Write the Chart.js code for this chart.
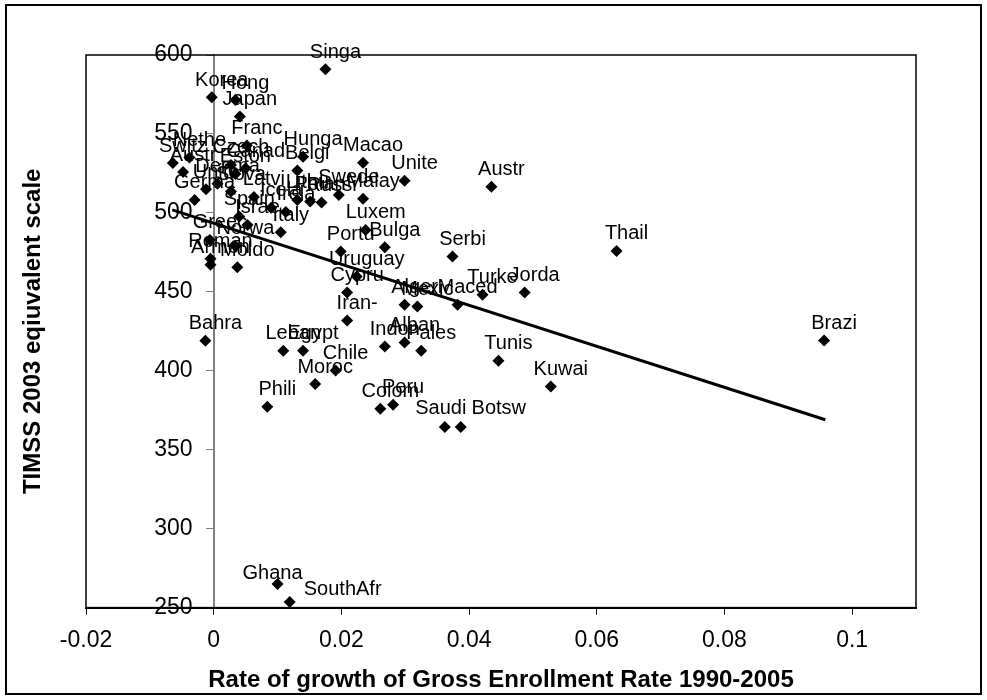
<!DOCTYPE html>
<html>
<head>
<meta charset="utf-8">
<script src="https://cdn.jsdelivr.net/npm/chart.js@4"></script>
<style>
  html, body { margin: 0; padding: 0; background: #fff; }
  #wrap { width: 987px; height: 700px; }
</style>
</head>
<body>
<div id="wrap"><canvas id="scoreGraph" width="987" height="700"></canvas></div>
<script>
// country labels (truncated like in the original sheet)
const countries = [
  "Singa", "Korea", "Hong", "Japan", "Franc", "Hunga", "Belgi", "Macao", "Unite", "Austr",
  "Switz", "Nethe", "Austr", "Czech", "Canad", "Eston", "Unite", "Germa", "Denma", "Slova",
  "Latvi", "Icela", "Irela", "Spain", "Israe", "Italy", "Lithu", "Polan", "Russi", "Swede",
  "Malay", "Luxem", "Portu", "Bulga", "Serbi", "Thail", "Norwa", "Greec", "Roman", "Armen",
  "Moldo", "Uruguay", "Cypru", "Iran-", "Alger", "Mexic", "Maced", "Turke", "Jorda", "Bahra",
  "Leban", "Egypt", "Chile", "Moroc", "Phili", "Indon", "Alban", "Pales", "Tunis", "Kuwai",
  "Brazi", "Colom", "Peru", "Saudi", "Botsw", "Ghana", "SouthAfr"
];

// rate of growth of gross enrollment rate 1990-2005
const growth = [
  0.0175, -0.0003, 0.0034, 0.0041, 0.0052, 0.0140, 0.0131, 0.0234, 0.0299, 0.0435,
  -0.0064, -0.0038, -0.0048, 0.0027, 0.0050, 0.0034, -0.0012, -0.0030, 0.0006, 0.0027,
  0.0063, 0.0090, 0.0113, 0.0040, 0.0053, 0.0105, 0.0131, 0.0151, 0.0169, 0.0196,
  0.0234, 0.0238, 0.0199, 0.0268, 0.0374, 0.0631, 0.0034, -0.0006, -0.0005, -0.0005,
  0.0037, 0.0224, 0.0209, 0.0209, 0.0299, 0.0319, 0.0382, 0.0421, 0.0487, -0.0013,
  0.0109, 0.0140, 0.0191, 0.0159, 0.0084, 0.0268, 0.0299, 0.0325, 0.0446, 0.0528,
  0.0956, 0.0261, 0.0281, 0.0362, 0.0387, 0.0100, 0.0119
];

// TIMSS 2003 equivalent scores
const scores = [
  591, 573.2, 571.5, 561.1, 542.7, 535.6, 526.8, 531.8, 520.3, 516.6,
  531.6, 535.1, 525.9, 530.4, 528.3, 524.7, 515, 508.2, 518.4, 513.5,
  510.1, 503.2, 500.6, 497.7, 492.4, 487.8, 508.2, 507.2, 506.5, 511.4,
  508.9, 489.2, 475.6, 478.2, 472.3, 475.9, 479.1, 482.9, 470.9, 467.1,
  465.6, 459.7, 449.6, 431.8, 441.8, 440.7, 441.8, 448.1, 449.6, 419,
  412.7, 412.7, 400.2, 391.6, 377.2, 415.4, 417.9, 412.7, 406.3, 390.1,
  419.2, 375.9, 378.5, 364.4, 364.4, 265, 253.6
];

// fitted trend line end points
const trendX = [-0.0065, 0.0958];
const trendY = [501.9, 369];

const FONT = "'Liberation Sans', Arial, sans-serif";

// a few labels were dragged aside in the original to avoid overlaps
const labelNudge = {
  Saudi: [-14, -1],
  Botsw: [28, -1],
  Ghana: [-15, 7],
  SouthAfr: [43, 5]
};

// white page + outer frame + plot frame
const framePlugin = {
  id: "frames",
  beforeDraw(chart) {
    const ctx = chart.ctx;
    ctx.save();
    ctx.fillStyle = "#fff";
    ctx.fillRect(0, 0, chart.width, chart.height);
    ctx.strokeStyle = "#000";
    ctx.lineWidth = 2;
    ctx.strokeRect(6, 5, chart.width - 12, chart.height - 11);
    ctx.restore();
  },
  beforeDatasetsDraw(chart) {
    const a = chart.chartArea;
    const ctx = chart.ctx;
    ctx.save();
    ctx.strokeStyle = "#000";
    ctx.lineWidth = 1.5;
    ctx.strokeRect(a.left, a.top, a.right - a.left, a.bottom - a.top);
    ctx.restore();
  }
};

// country names above each marker
const labelPlugin = {
  id: "pointLabels",
  afterDatasetsDraw(chart) {
    const ctx = chart.ctx;
    const meta = chart.getDatasetMeta(0);
    ctx.save();
    ctx.font = "20px " + FONT;
    ctx.fillStyle = "#000";
    ctx.textAlign = "center";
    ctx.textBaseline = "middle";
    meta.data.forEach((pt, i) => {
      const nudge = labelNudge[countries[i]] || [0, 0];
      ctx.fillText(countries[i], pt.x + 10 + nudge[0], pt.y - 17 + nudge[1]);
    });
    ctx.restore();
  }
};

// y axis title sits at the far left, not next to the axis at x = 0
const yTitlePlugin = {
  id: "yTitle",
  afterDraw(chart) {
    const a = chart.chartArea;
    const ctx = chart.ctx;
    ctx.save();
    ctx.translate(33, (a.top + a.bottom) / 2);
    ctx.rotate(-Math.PI / 2);
    ctx.font = "bold 24px " + FONT;
    ctx.fillStyle = "#000";
    ctx.textAlign = "center";
    ctx.textBaseline = "middle";
    ctx.fillText("TIMSS 2003 eqiuvalent scale", 0, 0);
    ctx.restore();
  }
};

const ctx = document.getElementById("scoreGraph").getContext("2d");

new Chart(ctx, {
  type: "scatter",
  data: {
    datasets: [
      {
        label: "Countries",
        data: growth.map((g, i) => ({ x: g, y: scores[i] })),
        pointStyle: "rectRot",
        pointRadius: 6,
        backgroundColor: "#000",
        borderColor: "#000",
        borderWidth: 0
      },
      {
        type: "line",
        label: "Trend",
        data: trendX.map((t, i) => ({ x: t, y: trendY[i] })),
        borderColor: "#000",
        borderWidth: 3,
        pointRadius: 0,
        fill: false
      }
    ]
  },
  options: {
    responsive: false,
    animation: false,
    events: [],
    layout: {
      padding: { left: 86, right: 71, top: 55, bottom: 5 }
    },
    plugins: {
      legend: { display: false },
      tooltip: { enabled: false }
    },
    scales: {
      x: {
        type: "linear",
        position: "bottom",
        min: -0.02,
        max: 0.11,
        ticks: {
          stepSize: 0.02,
          includeBounds: false,
          color: "#000",
          padding: 12,
          font: { family: FONT, size: 23 },
          callback: v => String(+v.toFixed(4))
        },
        grid: {
          drawOnChartArea: false,
          drawTicks: true,
          tickLength: 7,
          color: "#000"
        },
        border: { display: true, color: "#000", width: 2 },
        title: {
          display: true,
          text: "Rate of growth of Gross Enrollment Rate 1990-2005",
          color: "#000",
          font: { family: FONT, size: 24, weight: "bold" },
          padding: { top: 0, bottom: 0 }
        }
      },
      // axis line and tick marks crossing at x = 0
      y: {
        type: "linear",
        position: { x: 0 },
        min: 250,
        max: 600,
        ticks: { stepSize: 50, display: false },
        grid: {
          drawOnChartArea: false,
          drawTicks: true,
          tickLength: 7,
          color: "#808080"
        },
        border: { display: true, color: "#808080", width: 2 }
      },
      // tick labels, set a little left of the axis line
      yLabels: {
        type: "linear",
        axis: "y",
        position: { x: -0.0033 },
        min: 250,
        max: 600,
        ticks: {
          stepSize: 50,
          color: "#000",
          font: { family: FONT, size: 23 }
        },
        grid: { display: false },
        border: { display: false }
      }
    }
  },
  plugins: [framePlugin, labelPlugin, yTitlePlugin]
});
</script>
</body>
</html>
